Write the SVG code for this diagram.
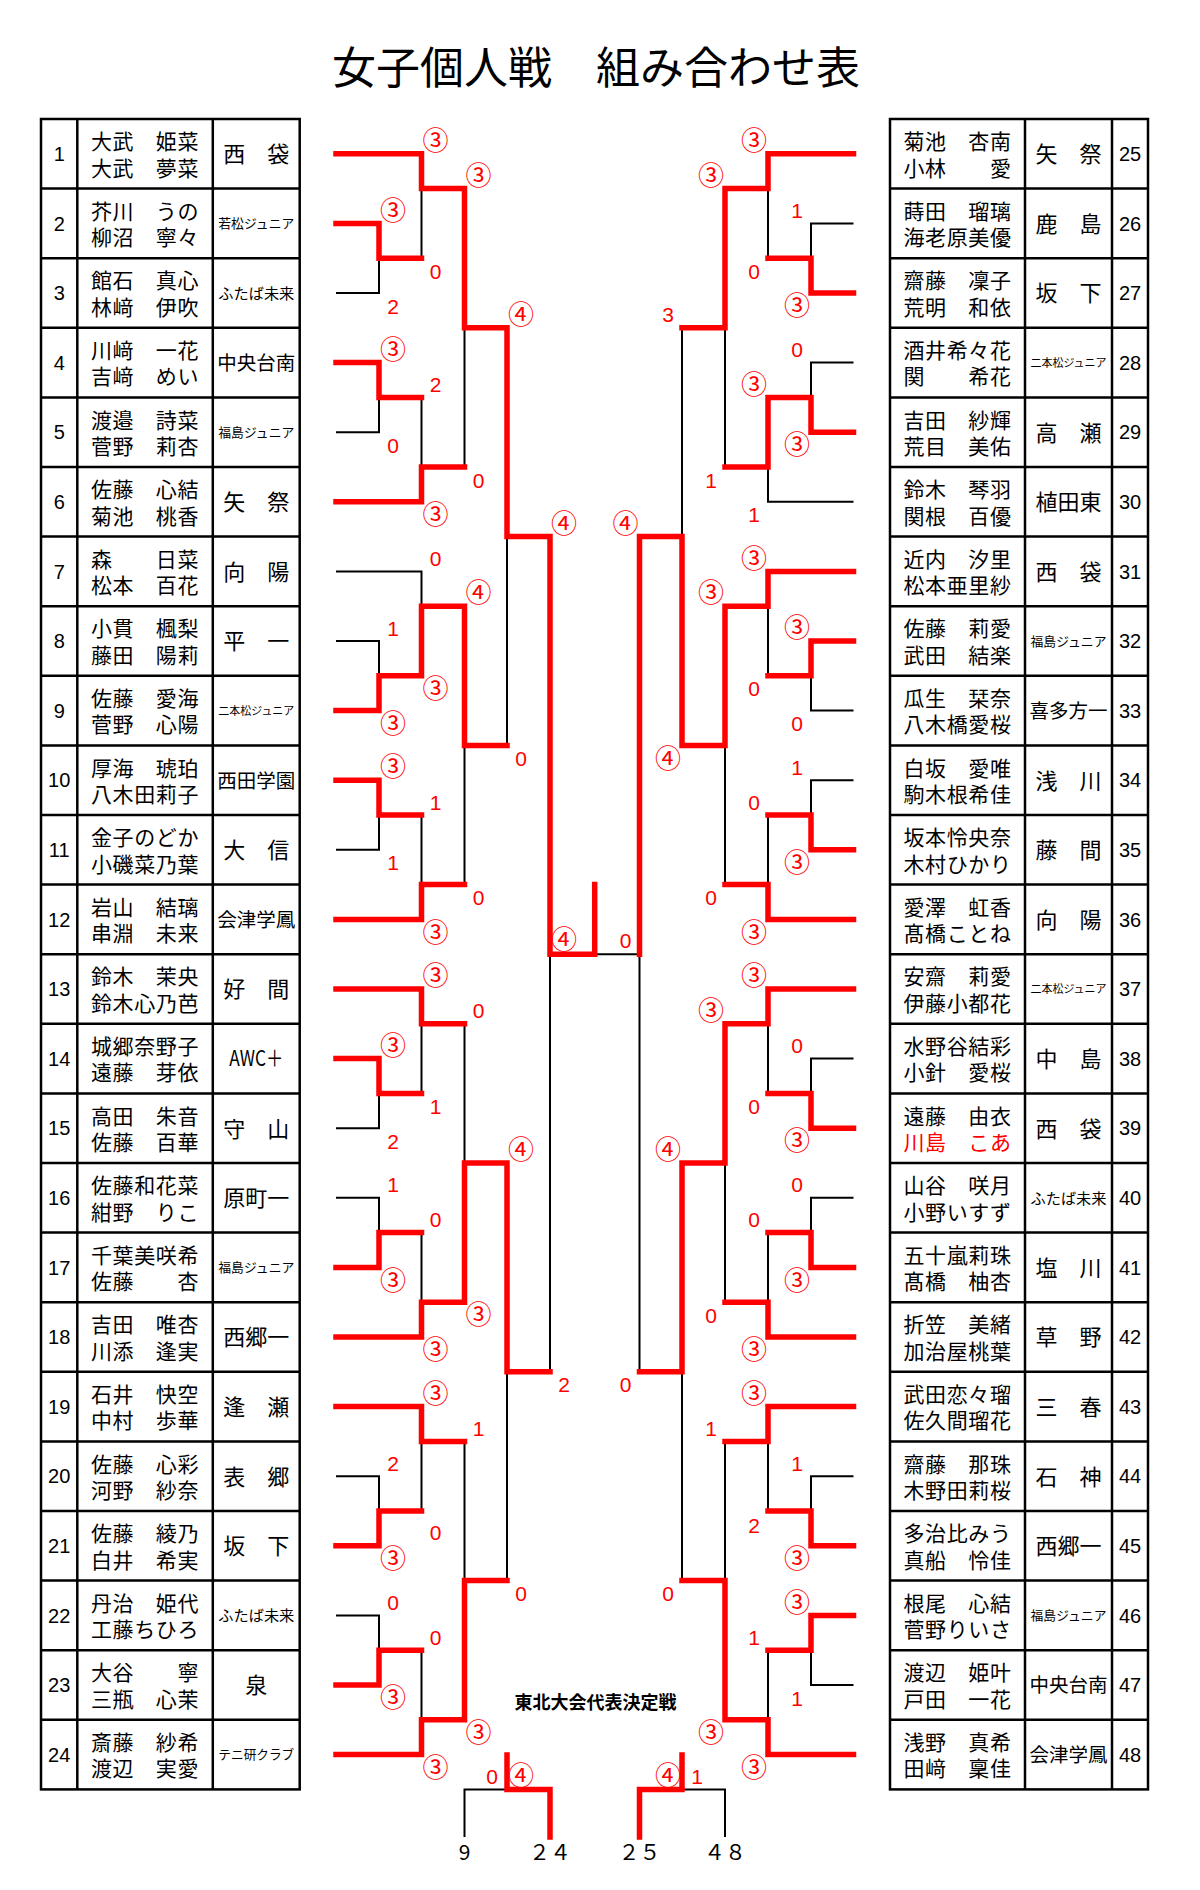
<svg xmlns="http://www.w3.org/2000/svg" width="1200" height="1890" viewBox="0 0 1200 1890">
<defs>
<style>
.jp{font-family:"Noto Sans CJK JP","Noto Sans CJK SC",sans-serif;fill:#000}
.ttl{font-size:44px;text-anchor:middle}
.nm{font-size:21px;letter-spacing:0.6px;text-anchor:middle}
.c3{font-size:22px;text-anchor:middle}
.c4{font-size:19.5px;text-anchor:middle}
.cs{font-size:13px;text-anchor:middle}
.c7{font-size:11px;text-anchor:middle}
.c5{font-size:15px;text-anchor:middle}
.no{font-family:"Liberation Sans",Arial,sans-serif;font-size:20px;text-anchor:middle;fill:#000}
.grid{fill:none;stroke:#000;stroke-width:2.5}
.k{fill:none;stroke:#000;stroke-width:2}
.r{fill:none;stroke:#ff0000;stroke-width:5.5;stroke-linecap:square;stroke-linejoin:miter}
.sd{font-family:"Liberation Sans",Arial,sans-serif;font-size:21px;fill:#ff0000;text-anchor:middle}
.sc{font-family:"Noto Sans CJK JP","Noto Sans CJK SC",sans-serif;font-size:26px;fill:#ff0000;text-anchor:middle}
.red{fill:#ff0000}
</style>
</defs>
<rect width="1200" height="1890" fill="#fff"/>
<text id="title" class="jp ttl" x="596" y="83.5">女子個人戦　組み合わせ表</text>

<g id="table-grid">
<rect class="grid" x="41" y="119" width="258.7" height="1670.4"/>
<path class="grid" d="M77.3 119V1789.4M212.8 119V1789.4M41 188.6H299.7M41 258.2H299.7M41 327.8H299.7M41 397.4H299.7M41 467H299.7M41 536.6H299.7M41 606.2H299.7M41 675.8H299.7M41 745.4H299.7M41 815H299.7M41 884.6H299.7M41 954.2H299.7M41 1023.8H299.7M41 1093.4H299.7M41 1163H299.7M41 1232.6H299.7M41 1302.2H299.7M41 1371.8H299.7M41 1441.4H299.7M41 1511H299.7M41 1580.6H299.7M41 1650.2H299.7M41 1719.8H299.7"/>
<rect class="grid" x="890" y="119" width="258" height="1670.4"/>
<path class="grid" d="M1025 119V1789.4M1112 119V1789.4M890 188.6H1148M890 258.2H1148M890 327.8H1148M890 397.4H1148M890 467H1148M890 536.6H1148M890 606.2H1148M890 675.8H1148M890 745.4H1148M890 815H1148M890 884.6H1148M890 954.2H1148M890 1023.8H1148M890 1093.4H1148M890 1163H1148M890 1232.6H1148M890 1302.2H1148M890 1371.8H1148M890 1441.4H1148M890 1511H1148M890 1580.6H1148M890 1650.2H1148M890 1719.8H1148"/>
</g>

<g id="players-left">
<g id="p1" transform="translate(0,119)"><text class="no" x="59.2" y="42">1</text><text class="jp nm"><tspan x="145" y="30.2">大武　姫菜</tspan><tspan x="145" y="56.6">大武　夢菜</tspan></text><text class="jp c3" x="256.3" y="43.2">西　袋</text></g>
<g id="p2" transform="translate(0,188.6)"><text class="no" x="59.2" y="42">2</text><text class="jp nm"><tspan x="145" y="30.2">芥川　うの</tspan><tspan x="145" y="56.6">柳沼　寧々</tspan></text><text class="jp cs" x="256.3" y="39.7" textLength="76" lengthAdjust="spacingAndGlyphs">若松ジュニア</text></g>
<g id="p3" transform="translate(0,258.2)"><text class="no" x="59.2" y="42">3</text><text class="jp nm"><tspan x="145" y="30.2">館石　真心</tspan><tspan x="145" y="56.6">林﨑　伊吹</tspan></text><text class="jp c5" x="256.3" y="40.5" textLength="76" lengthAdjust="spacingAndGlyphs">ふたば未来</text></g>
<g id="p4" transform="translate(0,327.8)"><text class="no" x="59.2" y="42">4</text><text class="jp nm"><tspan x="145" y="30.2">川﨑　一花</tspan><tspan x="145" y="56.6">吉﨑　めい</tspan></text><text class="jp c4" x="256.3" y="42.2">中央台南</text></g>
<g id="p5" transform="translate(0,397.4)"><text class="no" x="59.2" y="42">5</text><text class="jp nm"><tspan x="145" y="30.2">渡邉　詩菜</tspan><tspan x="145" y="56.6">菅野　莉杏</tspan></text><text class="jp cs" x="256.3" y="39.7" textLength="76" lengthAdjust="spacingAndGlyphs">福島ジュニア</text></g>
<g id="p6" transform="translate(0,467)"><text class="no" x="59.2" y="42">6</text><text class="jp nm"><tspan x="145" y="30.2">佐藤　心結</tspan><tspan x="145" y="56.6">菊池　桃香</tspan></text><text class="jp c3" x="256.3" y="43.2">矢　祭</text></g>
<g id="p7" transform="translate(0,536.6)"><text class="no" x="59.2" y="42">7</text><text class="jp nm"><tspan x="145" y="30.2">森　　日菜</tspan><tspan x="145" y="56.6">松本　百花</tspan></text><text class="jp c3" x="256.3" y="43.2">向　陽</text></g>
<g id="p8" transform="translate(0,606.2)"><text class="no" x="59.2" y="42">8</text><text class="jp nm"><tspan x="145" y="30.2">小貫　楓梨</tspan><tspan x="145" y="56.6">藤田　陽莉</tspan></text><text class="jp c3" x="256.3" y="43.2">平　一</text></g>
<g id="p9" transform="translate(0,675.8)"><text class="no" x="59.2" y="42">9</text><text class="jp nm"><tspan x="145" y="30.2">佐藤　愛海</tspan><tspan x="145" y="56.6">菅野　心陽</tspan></text><text class="jp c7" x="256.3" y="39" textLength="76" lengthAdjust="spacingAndGlyphs">二本松ジュニア</text></g>
<g id="p10" transform="translate(0,745.4)"><text class="no" x="59.2" y="42">10</text><text class="jp nm"><tspan x="145" y="30.2">厚海　琥珀</tspan><tspan x="145" y="56.6">八木田莉子</tspan></text><text class="jp c4" x="256.3" y="42.2">西田学園</text></g>
<g id="p11" transform="translate(0,815)"><text class="no" x="59.2" y="42">11</text><text class="jp nm"><tspan x="145" y="30.2">金子のどか</tspan><tspan x="145" y="56.6">小磯菜乃葉</tspan></text><text class="jp c3" x="256.3" y="43.2">大　信</text></g>
<g id="p12" transform="translate(0,884.6)"><text class="no" x="59.2" y="42">12</text><text class="jp nm"><tspan x="145" y="30.2">岩山　結璃</tspan><tspan x="145" y="56.6">串淵　未来</tspan></text><text class="jp c4" x="256.3" y="42.2">会津学鳳</text></g>
<g id="p13" transform="translate(0,954.2)"><text class="no" x="59.2" y="42">13</text><text class="jp nm"><tspan x="145" y="30.2">鈴木　茉央</tspan><tspan x="145" y="56.6">鈴木心乃芭</tspan></text><text class="jp c3" x="256.3" y="43.2">好　間</text></g>
<g id="p14" transform="translate(0,1023.8)"><text class="no" x="59.2" y="42">14</text><text class="jp nm"><tspan x="145" y="30.2">城郷奈野子</tspan><tspan x="145" y="56.6">遠藤　芽依</tspan></text><text class="jp c3" x="256.3" y="42.5" font-size="20" textLength="54" lengthAdjust="spacingAndGlyphs">AWC＋</text></g>
<g id="p15" transform="translate(0,1093.4)"><text class="no" x="59.2" y="42">15</text><text class="jp nm"><tspan x="145" y="30.2">高田　朱音</tspan><tspan x="145" y="56.6">佐藤　百華</tspan></text><text class="jp c3" x="256.3" y="43.2">守　山</text></g>
<g id="p16" transform="translate(0,1163)"><text class="no" x="59.2" y="42">16</text><text class="jp nm"><tspan x="145" y="30.2">佐藤和花菜</tspan><tspan x="145" y="56.6">紺野　りこ</tspan></text><text class="jp c3" x="256.3" y="43.2">原町一</text></g>
<g id="p17" transform="translate(0,1232.6)"><text class="no" x="59.2" y="42">17</text><text class="jp nm"><tspan x="145" y="30.2">千葉美咲希</tspan><tspan x="145" y="56.6">佐藤　　杏</tspan></text><text class="jp cs" x="256.3" y="39.7" textLength="76" lengthAdjust="spacingAndGlyphs">福島ジュニア</text></g>
<g id="p18" transform="translate(0,1302.2)"><text class="no" x="59.2" y="42">18</text><text class="jp nm"><tspan x="145" y="30.2">吉田　唯杏</tspan><tspan x="145" y="56.6">川添　逢実</tspan></text><text class="jp c3" x="256.3" y="43.2">西郷一</text></g>
<g id="p19" transform="translate(0,1371.8)"><text class="no" x="59.2" y="42">19</text><text class="jp nm"><tspan x="145" y="30.2">石井　快空</tspan><tspan x="145" y="56.6">中村　歩華</tspan></text><text class="jp c3" x="256.3" y="43.2">逢　瀬</text></g>
<g id="p20" transform="translate(0,1441.4)"><text class="no" x="59.2" y="42">20</text><text class="jp nm"><tspan x="145" y="30.2">佐藤　心彩</tspan><tspan x="145" y="56.6">河野　紗奈</tspan></text><text class="jp c3" x="256.3" y="43.2">表　郷</text></g>
<g id="p21" transform="translate(0,1511)"><text class="no" x="59.2" y="42">21</text><text class="jp nm"><tspan x="145" y="30.2">佐藤　綾乃</tspan><tspan x="145" y="56.6">白井　希実</tspan></text><text class="jp c3" x="256.3" y="43.2">坂　下</text></g>
<g id="p22" transform="translate(0,1580.6)"><text class="no" x="59.2" y="42">22</text><text class="jp nm"><tspan x="145" y="30.2">丹治　姫代</tspan><tspan x="145" y="56.6">工藤ちひろ</tspan></text><text class="jp c5" x="256.3" y="40.5" textLength="76" lengthAdjust="spacingAndGlyphs">ふたば未来</text></g>
<g id="p23" transform="translate(0,1650.2)"><text class="no" x="59.2" y="42">23</text><text class="jp nm"><tspan x="145" y="30.2">大谷　　寧</tspan><tspan x="145" y="56.6">三瓶　心茉</tspan></text><text class="jp c3" x="256.3" y="43.2">泉</text></g>
<g id="p24" transform="translate(0,1719.8)"><text class="no" x="59.2" y="42">24</text><text class="jp nm"><tspan x="145" y="30.2">斎藤　紗希</tspan><tspan x="145" y="56.6">渡辺　実愛</tspan></text><text class="jp cs" x="256.3" y="39.7" textLength="76" lengthAdjust="spacingAndGlyphs">テニ研クラブ</text></g>
</g>

<g id="players-right">
<g id="p25" transform="translate(0,119)"><text class="jp nm"><tspan x="957.5" y="30.2">菊池　杏南</tspan><tspan x="957.5" y="56.6">小林　　愛</tspan></text><text class="jp c3" x="1068.5" y="43.2">矢　祭</text><text class="no" x="1130" y="42">25</text></g>
<g id="p26" transform="translate(0,188.6)"><text class="jp nm"><tspan x="957.5" y="30.2">蒔田　瑠璃</tspan><tspan x="957.5" y="56.6">海老原美優</tspan></text><text class="jp c3" x="1068.5" y="43.2">鹿　島</text><text class="no" x="1130" y="42">26</text></g>
<g id="p27" transform="translate(0,258.2)"><text class="jp nm"><tspan x="957.5" y="30.2">齋藤　凜子</tspan><tspan x="957.5" y="56.6">荒明　和依</tspan></text><text class="jp c3" x="1068.5" y="43.2">坂　下</text><text class="no" x="1130" y="42">27</text></g>
<g id="p28" transform="translate(0,327.8)"><text class="jp nm"><tspan x="957.5" y="30.2">酒井希々花</tspan><tspan x="957.5" y="56.6">関　　希花</tspan></text><text class="jp c7" x="1068.5" y="39" textLength="76" lengthAdjust="spacingAndGlyphs">二本松ジュニア</text><text class="no" x="1130" y="42">28</text></g>
<g id="p29" transform="translate(0,397.4)"><text class="jp nm"><tspan x="957.5" y="30.2">吉田　紗輝</tspan><tspan x="957.5" y="56.6">荒目　美佑</tspan></text><text class="jp c3" x="1068.5" y="43.2">高　瀬</text><text class="no" x="1130" y="42">29</text></g>
<g id="p30" transform="translate(0,467)"><text class="jp nm"><tspan x="957.5" y="30.2">鈴木　琴羽</tspan><tspan x="957.5" y="56.6">関根　百優</tspan></text><text class="jp c3" x="1068.5" y="43.2">植田東</text><text class="no" x="1130" y="42">30</text></g>
<g id="p31" transform="translate(0,536.6)"><text class="jp nm"><tspan x="957.5" y="30.2">近内　汐里</tspan><tspan x="957.5" y="56.6">松本亜里紗</tspan></text><text class="jp c3" x="1068.5" y="43.2">西　袋</text><text class="no" x="1130" y="42">31</text></g>
<g id="p32" transform="translate(0,606.2)"><text class="jp nm"><tspan x="957.5" y="30.2">佐藤　莉愛</tspan><tspan x="957.5" y="56.6">武田　結楽</tspan></text><text class="jp cs" x="1068.5" y="39.7" textLength="76" lengthAdjust="spacingAndGlyphs">福島ジュニア</text><text class="no" x="1130" y="42">32</text></g>
<g id="p33" transform="translate(0,675.8)"><text class="jp nm"><tspan x="957.5" y="30.2">瓜生　栞奈</tspan><tspan x="957.5" y="56.6">八木橋愛桜</tspan></text><text class="jp c4" x="1068.5" y="42.2">喜多方一</text><text class="no" x="1130" y="42">33</text></g>
<g id="p34" transform="translate(0,745.4)"><text class="jp nm"><tspan x="957.5" y="30.2">白坂　愛唯</tspan><tspan x="957.5" y="56.6">駒木根希佳</tspan></text><text class="jp c3" x="1068.5" y="43.2">浅　川</text><text class="no" x="1130" y="42">34</text></g>
<g id="p35" transform="translate(0,815)"><text class="jp nm"><tspan x="957.5" y="30.2">坂本怜央奈</tspan><tspan x="957.5" y="56.6">木村ひかり</tspan></text><text class="jp c3" x="1068.5" y="43.2">藤　間</text><text class="no" x="1130" y="42">35</text></g>
<g id="p36" transform="translate(0,884.6)"><text class="jp nm"><tspan x="957.5" y="30.2">愛澤　虹香</tspan><tspan x="957.5" y="56.6">髙橋ことね</tspan></text><text class="jp c3" x="1068.5" y="43.2">向　陽</text><text class="no" x="1130" y="42">36</text></g>
<g id="p37" transform="translate(0,954.2)"><text class="jp nm"><tspan x="957.5" y="30.2">安齋　莉愛</tspan><tspan x="957.5" y="56.6">伊藤小都花</tspan></text><text class="jp c7" x="1068.5" y="39" textLength="76" lengthAdjust="spacingAndGlyphs">二本松ジュニア</text><text class="no" x="1130" y="42">37</text></g>
<g id="p38" transform="translate(0,1023.8)"><text class="jp nm"><tspan x="957.5" y="30.2">水野谷結彩</tspan><tspan x="957.5" y="56.6">小針　愛桜</tspan></text><text class="jp c3" x="1068.5" y="43.2">中　島</text><text class="no" x="1130" y="42">38</text></g>
<g id="p39" transform="translate(0,1093.4)"><text class="jp nm"><tspan x="957.5" y="30.2">遠藤　由衣</tspan><tspan class="red" x="957.5" y="56.6">川島　こあ</tspan></text><text class="jp c3" x="1068.5" y="43.2">西　袋</text><text class="no" x="1130" y="42">39</text></g>
<g id="p40" transform="translate(0,1163)"><text class="jp nm"><tspan x="957.5" y="30.2">山谷　咲月</tspan><tspan x="957.5" y="56.6">小野いすず</tspan></text><text class="jp c5" x="1068.5" y="40.5" textLength="76" lengthAdjust="spacingAndGlyphs">ふたば未来</text><text class="no" x="1130" y="42">40</text></g>
<g id="p41" transform="translate(0,1232.6)"><text class="jp nm"><tspan x="957.5" y="30.2">五十嵐莉珠</tspan><tspan x="957.5" y="56.6">髙橋　柚杏</tspan></text><text class="jp c3" x="1068.5" y="43.2">塩　川</text><text class="no" x="1130" y="42">41</text></g>
<g id="p42" transform="translate(0,1302.2)"><text class="jp nm"><tspan x="957.5" y="30.2">折笠　美緒</tspan><tspan x="957.5" y="56.6">加治屋桃葉</tspan></text><text class="jp c3" x="1068.5" y="43.2">草　野</text><text class="no" x="1130" y="42">42</text></g>
<g id="p43" transform="translate(0,1371.8)"><text class="jp nm"><tspan x="957.5" y="30.2">武田恋々瑠</tspan><tspan x="957.5" y="56.6">佐久間瑠花</tspan></text><text class="jp c3" x="1068.5" y="43.2">三　春</text><text class="no" x="1130" y="42">43</text></g>
<g id="p44" transform="translate(0,1441.4)"><text class="jp nm"><tspan x="957.5" y="30.2">齋藤　那珠</tspan><tspan x="957.5" y="56.6">木野田莉桜</tspan></text><text class="jp c3" x="1068.5" y="43.2">石　神</text><text class="no" x="1130" y="42">44</text></g>
<g id="p45" transform="translate(0,1511)"><text class="jp nm"><tspan x="957.5" y="30.2">多治比みう</tspan><tspan x="957.5" y="56.6">真船　怜佳</tspan></text><text class="jp c3" x="1068.5" y="43.2">西郷一</text><text class="no" x="1130" y="42">45</text></g>
<g id="p46" transform="translate(0,1580.6)"><text class="jp nm"><tspan x="957.5" y="30.2">根尾　心結</tspan><tspan x="957.5" y="56.6">菅野りいさ</tspan></text><text class="jp cs" x="1068.5" y="39.7" textLength="76" lengthAdjust="spacingAndGlyphs">福島ジュニア</text><text class="no" x="1130" y="42">46</text></g>
<g id="p47" transform="translate(0,1650.2)"><text class="jp nm"><tspan x="957.5" y="30.2">渡辺　姫叶</tspan><tspan x="957.5" y="56.6">戸田　一花</tspan></text><text class="jp c4" x="1068.5" y="42.2">中央台南</text><text class="no" x="1130" y="42">47</text></g>
<g id="p48" transform="translate(0,1719.8)"><text class="jp nm"><tspan x="957.5" y="30.2">浅野　真希</tspan><tspan x="957.5" y="56.6">田﨑　稟佳</tspan></text><text class="jp c4" x="1068.5" y="42.2">会津学鳳</text><text class="no" x="1130" y="42">48</text></g>
</g>

<g id="connectors">
<path class="k" d="M336 293H379V258.2M336 432.2H379V397.4M421.5 258.2V188.6M421.5 397.4V467M464.5 467V327.8
M336 571.4H421.5V606.2M336 641H379V675.8M336 849.8H379V815M421.5 815V884.6M464.5 884.6V745.4M507 745.4V536.6
M336 1128.2H379V1093.4M336 1197.8H379V1232.6M421.5 1093.4V1023.8M421.5 1232.6V1302.2M464.5 1023.8V1163
M336 1476.2H379V1511M336 1615.4H379V1650.2M421.5 1511V1441.4M421.5 1650.2V1719.8M464.5 1441.4V1580.6M507 1580.6V1371.8
M550 1371.8V954.2
M464.5 1837V1789.4H507
M853.5 223.4H811V258.2M853.5 362.6H811V397.4M853.5 501.8H768V467M768 258.2V188.6M725 467V327.8M682 327.8V536.6
M853.5 710.6H811V675.8M853.5 780.2H811V815M768 675.8V606.2M768 815V884.6M725 884.6V745.4
M639.5 954.2H594.7
M853.5 1058.6H811V1093.4M853.5 1197.8H811V1232.6M768 1093.4V1023.8M768 1232.6V1302.2M725 1302.2V1163
M639.5 954.2V1371.8
M853.5 1476.2H811V1511M853.5 1685H811V1650.2M768 1511V1441.4M768 1650.2V1719.8M725 1441.4V1580.6M682 1580.6V1371.8
M682 1789.4H725V1837"/>
<path class="r" d="M336 153.8H421.5V188.6H464.5V327.8H507V536.6H550V954.2H594.7V884.6
M336 223.4H379V258.2H421.5
M336 362.6H379V397.4H421.5
M336 501.8H421.5V467H464.5
M336 710.6H379V675.8H421.5V606.2H464.5V745.4H507
M336 780.2H379V815H421.5
M336 919.4H421.5V884.6H464.5
M336 989H421.5V1023.8H464.5
M336 1058.6H379V1093.4H421.5
M336 1267.4H379V1232.6H421.5
M336 1337H421.5V1302.2H464.5V1163H507V1371.8H550
M336 1406.6H421.5V1441.4H464.5
M336 1545.8H379V1511H421.5
M336 1685H379V1650.2H421.5
M336 1754.6H421.5V1719.8H464.5V1580.6H507
M507 1755V1789.4H550V1837
M853.5 153.8H768V188.6H725V327.8H682
M853.5 293H811V258.2H768
M853.5 432.2H811V397.4H768V467H725
M853.5 571.4H768V606.2H725V745.4H682V536.6H639.5V954.2
M853.5 641H811V675.8H768
M853.5 849.8H811V815H768
M853.5 919.4H768V884.6H725
M853.5 989H768V1023.8H725V1163H682V1371.8H639.5
M853.5 1128.2H811V1093.4H768
M853.5 1267.4H811V1232.6H768
M853.5 1337H768V1302.2H725
M853.5 1406.6H768V1441.4H725
M853.5 1545.8H811V1511H768
M853.5 1615.4H811V1650.2H768
M853.5 1754.6H768V1719.8H725V1580.6H682
M639.5 1837V1789.4H682V1755"/>
</g>

<g id="scores">
<text class="sc" x="393" y="219.5">③</text><text class="sd" x="393" y="313.5">2</text>
<text class="sc" x="435.5" y="149.9">③</text><text class="sd" x="435.5" y="278.7">0</text>
<text class="sc" x="393" y="358.7">③</text><text class="sd" x="393" y="452.7">0</text>
<text class="sd" x="435.5" y="391.9">2</text><text class="sc" x="435.5" y="523.9">③</text>
<text class="sc" x="478.5" y="184.7">③</text><text class="sd" x="478.5" y="487.5">0</text>
<text class="sd" x="393" y="635.5">1</text><text class="sc" x="393" y="732.7">③</text>
<text class="sd" x="435.5" y="565.9">0</text><text class="sc" x="435.5" y="697.9">③</text>
<text class="sc" x="393" y="776.3">③</text><text class="sd" x="393" y="870.3">1</text>
<text class="sd" x="435.5" y="809.5">1</text><text class="sc" x="435.5" y="941.5">③</text>
<text class="sc" x="478.5" y="602.3">④</text><text class="sd" x="478.5" y="905.1">0</text>
<text class="sc" x="521" y="323.9">④</text><text class="sd" x="521" y="765.9">0</text>
<text class="sc" x="393" y="1054.7">③</text><text class="sd" x="393" y="1148.7">2</text>
<text class="sc" x="435.5" y="985.1">③</text><text class="sd" x="435.5" y="1113.9">1</text>
<text class="sd" x="393" y="1192.3">1</text><text class="sc" x="393" y="1289.5">③</text>
<text class="sd" x="435.5" y="1227.1">0</text><text class="sc" x="435.5" y="1359.1">③</text>
<text class="sd" x="478.5" y="1018.3">0</text><text class="sc" x="478.5" y="1324.3">③</text>
<text class="sd" x="393" y="1470.7">2</text><text class="sc" x="393" y="1567.9">③</text>
<text class="sc" x="435.5" y="1402.7">③</text><text class="sd" x="435.5" y="1539.5">0</text>
<text class="sd" x="393" y="1609.9">0</text><text class="sc" x="393" y="1707.1">③</text>
<text class="sd" x="435.5" y="1644.7">0</text><text class="sc" x="435.5" y="1776.7">③</text>
<text class="sd" x="478.5" y="1435.9">1</text><text class="sc" x="478.5" y="1741.9">③</text>
<text class="sc" x="521" y="1159.1">④</text><text class="sd" x="521" y="1601.1">0</text>
<text class="sc" x="564" y="532.7">④</text><text class="sd" x="564" y="1392.3">2</text>
<text class="sc" x="564" y="949.3">④</text>
<text class="sd" x="492" y="1783.5">0</text><text class="sc" x="521" y="1785.1">④</text>

<text class="sd" x="797" y="217.9">1</text><text class="sc" x="797" y="315.1">③</text>
<text class="sc" x="754" y="149.9">③</text><text class="sd" x="754" y="278.7">0</text>
<text class="sd" x="797" y="357.1">0</text><text class="sc" x="797" y="454.3">③</text>
<text class="sc" x="754" y="393.5">③</text><text class="sd" x="754" y="522.3">1</text>
<text class="sc" x="711" y="184.7">③</text><text class="sd" x="711" y="487.5">1</text>
<text class="sd" x="668" y="322.3">3</text><text class="sc" x="668" y="767.5">④</text>
<text class="sc" x="797" y="637.1">③</text><text class="sd" x="797" y="731.1">0</text>
<text class="sc" x="754" y="567.5">③</text><text class="sd" x="754" y="696.3">0</text>
<text class="sd" x="797" y="774.7">1</text><text class="sc" x="797" y="871.9">③</text>
<text class="sd" x="754" y="809.5">0</text><text class="sc" x="754" y="941.5">③</text>
<text class="sc" x="711" y="602.3">③</text><text class="sd" x="711" y="905.1">0</text>
<text class="sd" x="625.5" y="947.7">0</text>
<text class="sc" x="625.5" y="532.7">④</text><text class="sd" x="625.5" y="1392.3">0</text>
<text class="sd" x="797" y="1053.1">0</text><text class="sc" x="797" y="1150.3">③</text>
<text class="sc" x="754" y="985.1">③</text><text class="sd" x="754" y="1113.9">0</text>
<text class="sd" x="797" y="1192.3">0</text><text class="sc" x="797" y="1289.5">③</text>
<text class="sd" x="754" y="1227.1">0</text><text class="sc" x="754" y="1359.1">③</text>
<text class="sc" x="711" y="1019.9">③</text><text class="sd" x="711" y="1322.7">0</text>
<text class="sc" x="668" y="1159.1">④</text><text class="sd" x="668" y="1601.1">0</text>
<text class="sd" x="797" y="1470.7">1</text><text class="sc" x="797" y="1567.9">③</text>
<text class="sc" x="754" y="1402.7">③</text><text class="sd" x="754" y="1532.5">2</text>
<text class="sc" x="797" y="1611.5">③</text><text class="sd" x="797" y="1705.5">1</text>
<text class="sd" x="754" y="1644.7">1</text><text class="sc" x="754" y="1776.7">③</text>
<text class="sd" x="711" y="1435.9">1</text><text class="sc" x="711" y="1741.9">③</text>
<text class="sc" x="668" y="1785.1">④</text><text class="sd" x="697" y="1783.5">1</text>
</g>

<g id="playoff">
<text class="jp" x="595.5" y="1709" font-size="18" font-weight="bold" text-anchor="middle">東北大会代表決定戦</text>
<text class="jp" x="464.5" y="1859.5" font-size="21" text-anchor="middle">9</text>
<text class="jp" x="550" y="1859.5" font-size="21" text-anchor="middle">２４</text>
<text class="jp" x="639.5" y="1859.5" font-size="21" text-anchor="middle">２５</text>
<text class="jp" x="725" y="1859.5" font-size="21" text-anchor="middle">４８</text>
</g>
</svg>
